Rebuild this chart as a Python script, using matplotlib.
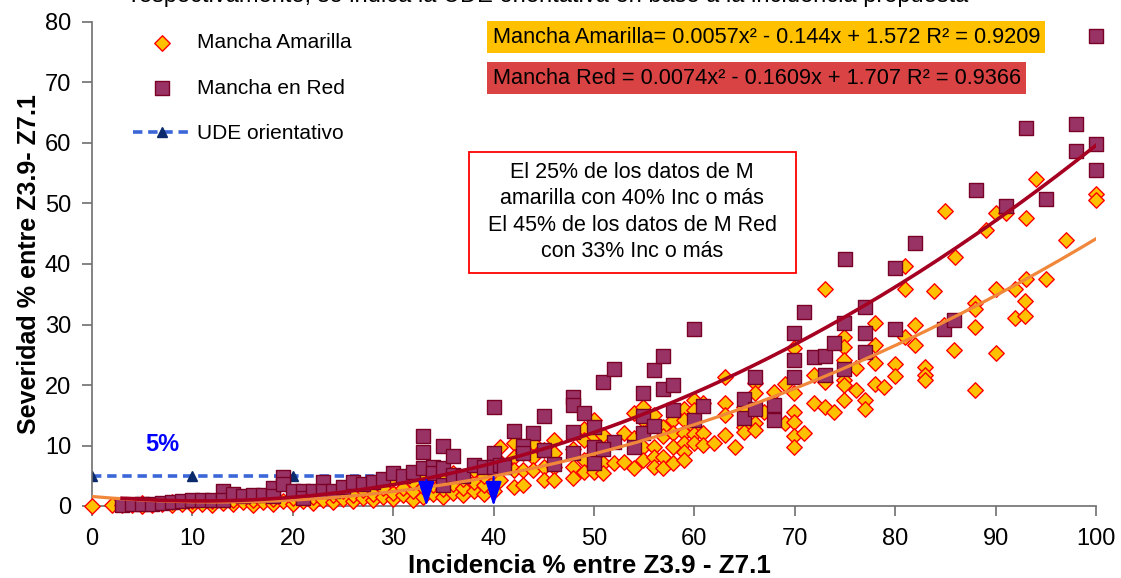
import matplotlib
matplotlib.use("Agg")
import matplotlib.pyplot as plt
from matplotlib.patches import Rectangle
import numpy as np

plt.rcParams['font.family'] = ['Liberation Sans', 'DejaVu Sans']

# ---------------- data ----------------
amarilla_low = [
    (0, 0), (2, 0.1), (3, 0.1), (4, 0.2), (5, 0), (5, 0.5), (6, 0.2), (7, 0.3), (8, 0.1), (8, 0.6),
    (9, 0.3), (10, 0.2), (10, 0.8), (11, 0.4), (12, 0.2), (12, 0.9), (13, 0.5), (14, 0.3), (14, 1.0),
    (15, 0.6), (16, 0.2), (16, 1.0), (17, 0.6), (18, 0.3), (18, 1.2), (19, 0.8), (20, 0.4), (20, 1.4),
    (21, 0.9), (22, 0.5), (22, 1.5), (23, 1.0), (24, 0.6), (24, 1.8), (25, 1.2), (25, 2.5), (26, 0.8),
    (26, 1.8), (27, 1.3), (27, 2.6), (28, 1.0), (28, 2.0), (29, 1.5), (29, 3.0), (30, 1.2), (30, 2.2),
    (30, 4.5), (31, 1.8), (31, 3.0), (32, 1.0), (32, 2.5), (32, 4.0), (33, 1.5), (33, 3.2), (33, 5.5),
    (34, 2.0), (34, 3.5), (34, 5.0), (35, 1.5), (35, 2.8), (35, 4.2), (36, 2.2), (36, 3.6), (36, 5.5),
    (37, 1.8), (37, 3.0), (37, 4.5), (38, 2.5), (38, 4.0), (38, 6.0), (39, 2.0), (39, 3.5), (39, 5.0),
    (40, 2.5), (40, 4.0), (40, 5.5), (40, 7.5),
]
amarilla_mid = [
    (40.6, 9.8), (40.6, 7.3), (40.6, 4.3), (42, 10.4), (42, 8.1), (42, 6.0), (42, 3.2),
    (42.9, 8.7), (42.9, 6.0), (42.9, 3.5), (43.9, 10.4), (43.9, 8.1), (43.9, 6.0),
    (45, 9.3), (45, 6.5), (45, 4.3), (46, 10.9), (46, 8.7), (46, 6.5), (46, 4.3),
    (47.9, 9.5), (47.9, 6.5), (47.9, 4.6), (49, 12.8), (49, 10.9), (49, 7.6), (49, 5.7),
    (50, 14.2), (50, 11.5), (50, 8.7), (50, 5.7), (50.9, 11.7), (50.9, 7.1), (50.9, 5.4),
    (52, 7.1), (53, 12.0), (53, 7.3), (54, 15.4), (54, 11.2), (54, 6.2),
    (54.9, 16.4), (54.9, 14.2), (54.9, 12.0), (54.9, 9.8), (54.9, 7.6),
    (56, 15.0), (56, 9.8), (56, 8.1), (56, 6.5), (56.9, 13.1), (56.9, 11.5), (56.9, 8.1), (56.9, 6.2),
    (57.9, 14.2), (57.9, 12.0), (57.9, 9.8), (57.9, 7.1),
    (59, 16.1), (59, 14.2), (59, 12.0), (59, 10.4), (59, 9.0), (59, 7.6),
    (60, 17.6), (60, 15.9), (60, 13.1), (60, 11.9), (60, 10.4),
    (60.9, 17.0), (60.9, 12.0), (60.9, 10.1), (62, 10.4),
    (63, 21.4), (63, 17.0), (63, 15.0), (63, 11.7), (64, 9.8),
    (64.9, 16.4), (64.9, 13.1), (64.9, 12.3), (66, 20.3), (66, 18.6), (66, 13.7), (66, 12.6),
    (66.9, 15.6), (67.9, 18.9), (69, 20.2), (69, 13.7),
    (69.9, 26.1), (69.9, 18.6), (69.9, 15.6), (69.9, 13.9), (69.9, 11.5), (69.9, 9.8), (70.9, 12.0),
    (71.9, 21.7), (71.9, 17.0), (73, 35.8), (73, 20.5), (73, 16.4), (73.9, 15.6),
    (74.9, 28.0), (74.9, 26.3), (74.9, 24.1), (74.9, 20.8), (74.9, 20.0), (74.9, 17.5),
    (76.1, 22.8), (76.1, 19.2), (77, 17.5), (77, 16.0),
    (78, 30.3), (78, 26.6), (78, 23.6), (78, 20.2), (78.9, 19.6),
    (80, 23.4), (80, 21.5), (81, 35.8), (81, 28.0), (82, 29.9), (82, 26.6),
    (83, 22.9), (83, 21.7), (83, 20.8), (83.9, 35.6), (84.9, 30.0), (85.9, 25.8),
    (87.9, 33.6), (87.9, 32.5), (87.9, 29.6), (87.9, 19.1), (90, 35.8), (90, 25.3),
    (91.9, 35.8), (91.9, 31.0), (92.9, 33.9), (92.9, 31.4),
]
amarilla_high = [
    (85, 48.8), (94, 54.0), (100, 51.6), (100, 50.6), (90, 48.4), (91, 48.4), (93, 47.6),
    (89, 45.6), (97, 43.9), (86, 41.2), (81, 39.6), (93, 37.6), (95, 37.6),
]

red_low = [
    (3, 0.2), (4, 0.3), (5, 0.3), (6, 0.4), (7, 0.5), (8, 0.6), (9, 0.8), (10, 1.0), (11, 1.0),
    (12, 1.0), (13, 2.4), (13, 1.0), (14, 2.0), (15, 1.6), (16, 1.9), (17, 1.9), (18, 2.9), (18, 1.6),
    (19, 4.8), (19, 3.7), (20, 2.5), (21, 2.5), (21, 1.4), (22, 2.5), (23, 4.0), (23, 2.5), (24, 2.5),
    (25, 3.1), (26, 4.0), (27, 3.6), (28, 4.0), (29, 4.4), (30, 5.4), (31, 5.0), (32, 5.6), (33, 6.2),
    (33, 9.0), (33, 11.6), (34, 6.5), (34, 5.4), (35, 10.0), (35, 6.2), (35, 3.5), (36, 8.3), (36, 5.2),
    (37, 5.0), (38, 6.8), (39, 6.5), (40, 16.4), (40, 8.7), (40, 6.5), (40.6, 6.8), (41, 6.5),
]
red_mid = [
    (42, 12.4), (45, 14.9), (43.9, 12.0), (42.9, 10.0), (42.9, 8.7), (45, 9.3), (46, 7.0),
    (47.9, 18.0), (47.9, 16.7), (49, 15.4), (47.9, 12.3), (47.9, 8.7), (50, 13.0),
    (50.9, 20.5), (52, 22.6), (52, 10.6), (50, 9.8), (50, 7.1), (50.9, 9.5), (54, 9.8),
    (54.9, 18.7), (54.9, 14.8), (54.9, 12.0), (56, 22.5), (56, 13.2), (56.9, 24.8), (56.9, 19.3),
    (57.9, 20.0), (57.9, 15.9), (60, 29.3), (60, 14.2), (60.9, 16.6), (64.9, 17.7), (64.9, 14.6),
    (66, 21.4), (66, 16.0), (67.9, 16.7), (67.9, 14.2), (69.9, 28.6), (69.9, 24.1), (69.9, 21.4),
    (70.9, 32.1), (71.9, 24.7), (73, 24.8), (73, 21.6), (73.9, 27.0), (74.9, 30.3), (74.9, 22.7),
    (77, 32.9), (77, 28.6), (77, 25.5), (80, 29.3), (84.9, 29.3), (85.9, 30.7),
]
red_high = [
    (75, 40.8), (80, 39.3), (82, 43.5), (88, 52.2), (91, 49.6), (93, 62.5), (95, 50.7),
    (98, 63.1), (98, 58.7), (100, 59.8), (100, 55.5), (100, 77.7),
]

ude_x = [0, 10, 20, 30]
ude_y = [5, 5, 5, 5]
arrow_x = [33.3, 40]
arrow_top = [4.3, 4.8]

coef_amarilla = [0.0057, -0.144, 1.572]
coef_red = [0.0074, -0.1609, 1.707]
r2_amarilla = 0.9209
r2_red = 0.9366

x_ticks = list(range(0, 101, 10))
y_ticks = list(range(0, 81, 10))

note_lines = ["El 25% de los datos de M", "amarilla con 40% Inc o más",
              "El 45% de los datos de M Red", "con 33% Inc o más"]

# ---------------- figure ----------------
W, H = 1121, 578
fig = plt.figure(figsize=(W / 100, H / 100), dpi=100)
ax = fig.add_axes([92 / W, 72 / H, 1004 / W, 484 / H])
ax.set_xlim(0, 100)
ax.set_ylim(0, 80)

am = amarilla_low + amarilla_mid + amarilla_high
rd = red_low + red_mid + red_high
am_x, am_y = zip(*am)
rd_x, rd_y = zip(*rd)

ax.scatter(am_x, am_y, marker='D', s=62, facecolor='#FFC000', edgecolor='#FF0000',
           linewidths=1.0, zorder=3, clip_on=False, label='Mancha Amarilla')
ax.scatter(rd_x, rd_y, marker='s', s=95, facecolor='#993366', edgecolor='#7A0026',
           linewidths=1.0, zorder=4, clip_on=False, label='Mancha en Red')

ax.plot(ude_x, ude_y, linestyle=(0, (2.6, 1.6)), color='#3A66D8', lw=2.6,
        marker='^', markersize=6.5, markerfacecolor='#0B2A6B', markeredgecolor='#0B2A6B',
        zorder=2, label='UDE orientativo')

xa = np.linspace(min(am_x), max(am_x), 200)
ax.plot(xa, np.polyval(coef_amarilla, xa), color='#F0873A', lw=2.3, zorder=5)
xr = np.linspace(min(rd_x), max(rd_x), 200)
ax.plot(xr, np.polyval(coef_red, xr), color='#A50021', lw=2.6, zorder=6)

for xv, top in zip(arrow_x, arrow_top):
    ax.annotate('', xy=(xv, 0), xytext=(xv, top),
                arrowprops=dict(arrowstyle='-|>,head_length=1.0,head_width=0.33',
                                mutation_scale=15, color='#0000FF', lw=1.5,
                                shrinkA=0, shrinkB=0),
                zorder=7)

# axes styling
for s in ['top', 'right']:
    ax.spines[s].set_visible(False)
for s in ['left', 'bottom']:
    ax.spines[s].set_color('#6E6E6E')
    ax.spines[s].set_linewidth(1.2)
ax.set_xticks(x_ticks)
ax.set_yticks(y_ticks)
ax.tick_params(axis='both', direction='out', length=7, width=1.2, color='#6E6E6E',
               labelsize=17, labelcolor='black')
ax.tick_params(axis='y', pad=8)
ax.tick_params(axis='x', pad=9)
ax.set_xlabel('Incidencia % entre Z3.9 - Z7.1', fontsize=18.7, fontweight='bold', labelpad=3)
ax.xaxis.label.set_x(0.495)
ax.set_ylabel('Severidad % entre Z3.9- Z7.1', fontsize=18, fontweight='bold', labelpad=3)

# legend
leg = ax.legend(loc='upper left', bbox_to_anchor=(133 / W, 1 - 33 / H),
                bbox_transform=fig.transFigure, frameon=False, fontsize=15,
                handlelength=2.8, handletextpad=0.25, labelspacing=1.28, borderpad=0,
                borderaxespad=0, scatterpoints=1)

# equations
def eq_text(name, c, r2):
    a, b, k = c
    sign_b = '-' if b < 0 else '+'
    sign_k = '-' if k < 0 else '+'
    return f"{name} {a:g}x² {sign_b} {abs(b):g}x {sign_k} {abs(k):g} R² = {r2:g}"

ax.text(39.9, 77.5, eq_text('Mancha Amarilla=', coef_amarilla, r2_amarilla),
        fontsize=15.7, ha='left', va='center', zorder=8,
        bbox=dict(boxstyle='square,pad=0.25', facecolor='#FFC000', edgecolor='none'))
ax.text(39.9, 70.7, eq_text('Mancha Red =', coef_red, r2_red),
        fontsize=15.7, ha='left', va='center', zorder=8,
        bbox=dict(boxstyle='square,pad=0.25', facecolor='#D94343', edgecolor='none'))

# note box
ax.add_patch(Rectangle((37.55, 38.5), 32.55, 20, facecolor='white', edgecolor='#FF0000',
                       lw=1.3, zorder=8))
ax.text(53.8, 48.6, "\n".join(note_lines), fontsize=15.5, ha='center', va='center',
        linespacing=1.33, zorder=9)

ax.text(7.0, 10.1, '5%', color='#0000FF', fontsize=17, fontweight='bold',
        ha='center', va='center', zorder=9)

# cut-off title line at very top
fig.text(0.49, 1 - 2.0 / H, 'respectivamente, se indica la UDE orientativa en base a la incidencia propuesta',
         fontsize=17, ha='center', va='baseline', color='black')

fig.savefig('out.png', dpi=100)
